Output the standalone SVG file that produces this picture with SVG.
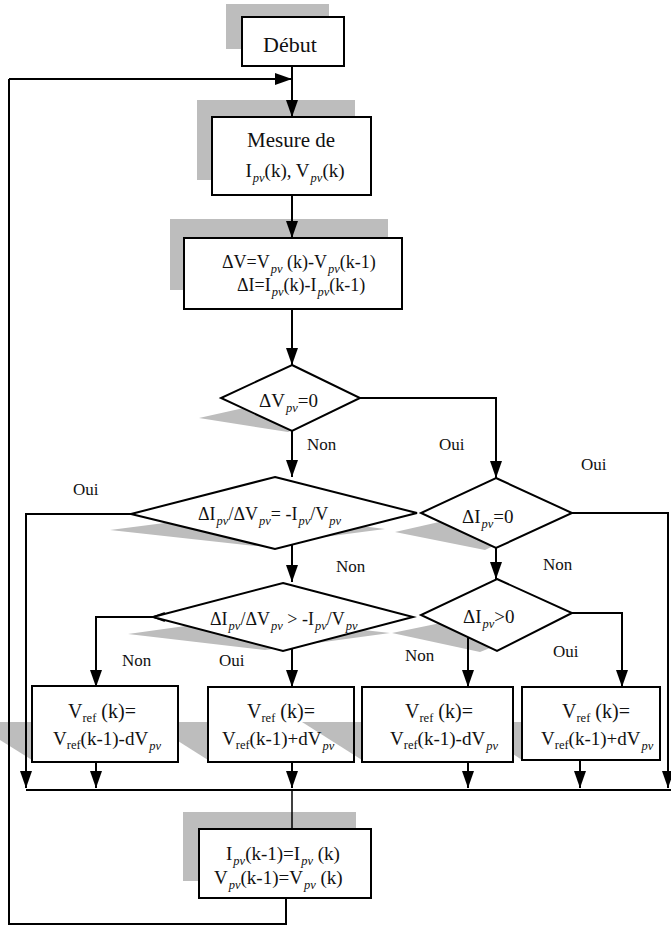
<svg xmlns="http://www.w3.org/2000/svg" width="671" height="932" viewBox="0 0 671 932">
  <style>
    .box { fill: #ffffff; stroke: #000; stroke-width: 2; }
    .open { fill: none; stroke: #000; stroke-width: 2; }
    .dia { fill: #ffffff; stroke: #000; stroke-width: 2; stroke-linejoin: miter; }
    .shade { fill: #bdbdbd; stroke: none; }
    .ln { fill: none; stroke: #000; stroke-width: 2; }
    .thin { fill: none; stroke: #000; stroke-width: 1.5; }
    .arr { marker-end: url(#head); }
    text { font-family: "Liberation Serif", "Times New Roman", serif; fill: #111; }
    .t22 { font-size: 22px; }
    .t21 { font-size: 21px; }
    .t20 { font-size: 20px; }
    .t19 { font-size: 19px; }
    .t18 { font-size: 18px; }
    .lbl { font-size: 17px; }
    .pv { font-style: italic; font-size: 12.5px; }
    .ref { font-size: 12.5px; }
  </style>
  <defs>
    <marker id="head" viewBox="0 0 17 12" refX="17" refY="6" markerWidth="17" markerHeight="12" markerUnits="userSpaceOnUse" orient="auto">
      <path d="M0,0 L17,6 L0,12 z" fill="#000"/>
    </marker>
  </defs>

  <!-- drop shadows -->
  <g id="shadows">
    <rect class="shade" x="226" y="4" width="103" height="45"/>
    <rect class="shade" x="197" y="100" width="158" height="80"/>
    <rect class="shade" x="170" y="219" width="218" height="71"/>
    <polygon class="shade" points="199,418 270,402 320,418 288,432"/>
    <polygon class="shade" points="110,530 250,512 385,529 255,546"/>
    <polygon class="shade" points="395,532 470,515 530,528 485,550"/>
    <polygon class="shade" points="128,634 250,617 390,633 265,650"/>
    <polygon class="shade" points="392,633 470,617 530,632 480,652"/>
    <polygon class="shade" points="0,722 32,722 32,760 0,740"/>
    <polygon class="shade" points="178,722 208,722 208,760 178,741"/>
    <polygon class="shade" points="302,722 362,722 362,760"/>
    <polygon class="shade" points="513,722 522,722 522,760 513,754"/>
    <rect class="shade" x="183" y="812" width="173" height="69"/>
  </g>

  <!-- connectors -->
  <g id="connectors">
    <!-- main spine -->
    <line class="ln arr" x1="292" y1="66" x2="292" y2="117"/>
    <line class="ln arr" x1="9" y1="79" x2="292" y2="79"/>
    <line class="ln arr" x1="292" y1="195" x2="292" y2="238"/>
    <line class="ln arr" x1="292" y1="309" x2="292" y2="365"/>
    <line class="ln arr" x1="292" y1="431" x2="292" y2="477"/>
    <polyline class="ln arr" points="360,398 496,398 496,478"/>
    <line class="ln arr" x1="292" y1="545" x2="292" y2="582"/>
    <line class="ln arr" x1="496" y1="548" x2="496" y2="579"/>
    <!-- branches to the update boxes -->
    <polyline class="ln arr" points="155,617 96,617 96,687"/>
    <polygon class="thin" points="153,617 164,613 164,621" fill="#fff"/>
    <line class="ln arr" x1="292" y1="649" x2="292" y2="687"/>
    <line class="ln arr" x1="468" y1="638" x2="468" y2="687"/>
    <polyline class="ln arr" points="572,613 622,613 622,687"/>
    <!-- outputs into the collector line -->
    <polyline class="ln arr" points="131,514 26,514 26,788"/>
    <polyline class="ln arr" points="572,513 668,513 668,788"/>
    <line class="ln arr" x1="96" y1="762" x2="96" y2="788"/>
    <line class="ln arr" x1="292" y1="762" x2="292" y2="788"/>
    <line class="ln arr" x1="468" y1="762" x2="468" y2="788"/>
    <line class="ln arr" x1="580" y1="760" x2="580" y2="788"/>
    <line class="ln" x1="26" y1="790" x2="671" y2="790"/>
    <line class="thin" x1="292" y1="790" x2="292" y2="829"/>
    <!-- loop back -->
    <polyline class="ln" points="286,898 286,924 9,924 9,79"/>
  </g>

  <g id="debut">
    <rect class="box" x="242" y="17" width="102" height="49"/>
    <text class="t22" x="290" y="52" text-anchor="middle">Début</text>
  </g>

  <g id="mesure">
    <rect class="box" x="212" y="117" width="159" height="78"/>
    <text class="t21" x="291" y="147" text-anchor="middle">Mesure de</text>
    <text class="t19" x="295" y="177" text-anchor="middle">I<tspan class="pv" dx="1" dy="5">pv</tspan><tspan dy="-5">(k), V</tspan><tspan class="pv" dx="1" dy="5">pv</tspan><tspan dy="-5">(k)</tspan></text>
  </g>

  <g id="delta">
    <rect class="box" x="184" y="238" width="218" height="71"/>
    <text class="t18" x="222" y="268">ΔV=V<tspan class="pv" dx="1" dy="5">pv</tspan><tspan dy="-5"> (k)-V</tspan><tspan class="pv" dx="1" dy="5">pv</tspan><tspan dy="-5">(k-1)</tspan></text>
    <text class="t18" x="237" y="291">ΔI=I<tspan class="pv" dx="1" dy="5">pv</tspan><tspan dy="-5">(k)-I</tspan><tspan class="pv" dx="1" dy="5">pv</tspan><tspan dy="-5">(k-1)</tspan></text>
  </g>

  <g id="test-dv">
    <polygon class="dia" points="292,365 360,398 292,431 221,398"/>
    <text class="t19" x="259" y="407">ΔV<tspan class="pv" dx="1" dy="5">pv</tspan><tspan dy="-5">=0</tspan></text>
  </g>

  <g id="test-slope-eq">
    <polygon class="dia" points="275,477 417,513 275,549 131,514"/>
    <text class="t18" x="198" y="520">ΔI<tspan class="pv" dx="1" dy="5">pv</tspan><tspan dy="-5">/ΔV</tspan><tspan class="pv" dx="1" dy="5">pv</tspan><tspan dy="-5">= -I</tspan><tspan class="pv" dx="1" dy="5">pv</tspan><tspan dy="-5">/V</tspan><tspan class="pv" dx="1" dy="5">pv</tspan></text>
  </g>

  <g id="test-di-zero">
    <polygon class="dia" points="496,478 572,513 496,548 421,513"/>
    <text class="t19" x="462" y="523">ΔI<tspan class="pv" dx="1" dy="5">pv</tspan><tspan dy="-5">=0</tspan></text>
  </g>

  <g id="test-slope-gt">
    <polygon class="dia" points="283,583 413,617 283,651 153,617"/>
    <text class="t18" x="210" y="625">ΔI<tspan class="pv" dx="1" dy="5">pv</tspan><tspan dy="-5">/ΔV</tspan><tspan class="pv" dx="1" dy="5">pv</tspan><tspan dy="-5"> &gt; -I</tspan><tspan class="pv" dx="1" dy="5">pv</tspan><tspan dy="-5">/V</tspan><tspan class="pv" dx="1" dy="5">pv</tspan></text>
  </g>

  <g id="test-di-pos">
    <polygon class="dia" points="497,579 572,613 497,651 421,615"/>
    <text class="t19" x="463" y="623">ΔI<tspan class="pv" dx="1" dy="5">pv</tspan><tspan dy="-5">&gt;0</tspan></text>
  </g>

  <g id="vref-dec-1">
    <rect class="box" x="32" y="686" width="146" height="76"/>
    <text class="t20" x="68" y="718">V<tspan class="ref" dy="4">ref</tspan><tspan dy="-4"> (k)=</tspan></text>
    <text class="t19" x="53" y="745">V<tspan class="ref" dy="4">ref</tspan><tspan dy="-4">(k-1)-dV</tspan><tspan class="pv" dx="1" dy="5">pv</tspan></text>
  </g>

  <g id="vref-inc-1">
    <rect class="open" x="208" y="687" width="146" height="75"/>
    <text class="t20" x="247" y="718">V<tspan class="ref" dy="4">ref</tspan><tspan dy="-4"> (k)=</tspan></text>
    <text class="t19" x="222" y="745">V<tspan class="ref" dy="4">ref</tspan><tspan dy="-4">(k-1)+dV</tspan><tspan class="pv" dx="1" dy="5">pv</tspan></text>
  </g>

  <g id="vref-dec-2">
    <rect class="box" x="362" y="687" width="151" height="75"/>
    <text class="t20" x="405" y="718">V<tspan class="ref" dy="4">ref</tspan><tspan dy="-4"> (k)=</tspan></text>
    <text class="t19" x="390" y="745">V<tspan class="ref" dy="4">ref</tspan><tspan dy="-4">(k-1)-dV</tspan><tspan class="pv" dx="1" dy="5">pv</tspan></text>
  </g>

  <g id="vref-inc-2">
    <rect class="box" x="522" y="687" width="138" height="73"/>
    <text class="t20" x="562" y="718">V<tspan class="ref" dy="4">ref</tspan><tspan dy="-4"> (k)=</tspan></text>
    <text class="t19" x="541" y="745">V<tspan class="ref" dy="4">ref</tspan><tspan dy="-4">(k-1)+dV</tspan><tspan class="pv" dx="1" dy="5">pv</tspan></text>
  </g>

  <g id="update">
    <rect class="box" x="199" y="829" width="172" height="69"/>
    <text class="t19" x="226" y="860">I<tspan class="pv" dx="1" dy="5">pv</tspan><tspan dy="-5">(k-1)=I</tspan><tspan class="pv" dx="1" dy="5">pv</tspan><tspan dy="-5"> (k)</tspan></text>
    <text class="t19" x="214" y="884">V<tspan class="pv" dx="1" dy="5">pv</tspan><tspan dy="-5">(k-1)=V</tspan><tspan class="pv" dx="1" dy="5">pv</tspan><tspan dy="-5"> (k)</tspan></text>
  </g>

  <!-- branch labels -->
  <g id="labels">
    <text class="lbl" x="307" y="450">Non</text>
    <text class="lbl" x="439" y="450">Oui</text>
    <text class="lbl" x="581" y="470">Oui</text>
    <text class="lbl" x="73" y="495">Oui</text>
    <text class="lbl" x="336" y="572">Non</text>
    <text class="lbl" x="543" y="570">Non</text>
    <text class="lbl" x="122" y="666">Non</text>
    <text class="lbl" x="219" y="666">Oui</text>
    <text class="lbl" x="405" y="661">Non</text>
    <text class="lbl" x="553" y="657">Oui</text>
  </g>
</svg>
